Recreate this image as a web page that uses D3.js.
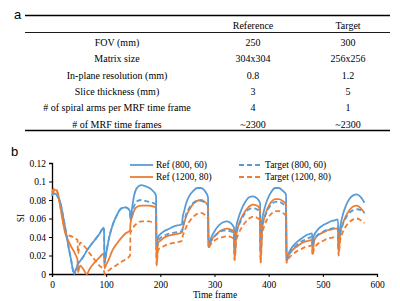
<!DOCTYPE html>
<html>
<head>
<meta charset="utf-8">
<script src="https://cdn.jsdelivr.net/npm/d3@7/dist/d3.min.js"></script>
<style>
  body { margin: 0; background: #fff; }
  svg { display: block; }
  .serif { font-family: "Liberation Serif", "Times New Roman", Times, "DejaVu Serif", serif; }
  .sans { font-family: "Liberation Sans", Arial, sans-serif; }
</style>
</head>
<body>
<div id="chart"></div>
<script>
// table (panel a)
var rowLabels = ["FOV (mm)", "Matrix size", "In-plane resolution (mm)", "Slice thickness (mm)",
    "# of spiral arms per MRF time frame", "# of MRF time frames"];
var colHeaders = ["Reference", "Target"];
var refValues = ["250", "304x304", "0.8", "3", "4", "~2300"];
var targetValues = ["300", "256x256", "1.2", "5", "1", "~2300"];

// chart (panel b)
var seriesNames = ["Ref (800, 60)", "Ref (1200, 80)", "Target (800, 60)", "Target (1200, 80)"];
var yTicks = [0, 0.02, 0.04, 0.06, 0.08, 0.1, 0.12];
var xTicks = [0, 100, 200, 300, 400, 500, 600];

var frames = [
    0, 3, 6, 10, 15, 20, 25, 30, 35, 41, 44, 47,
    48, 52, 58, 64, 70, 78, 86, 96,
    97, 100, 105, 112, 120, 128, 136, 144,
    145, 148, 152, 158, 165, 172, 180, 186, 192,
    193, 196, 200, 206, 213, 220, 228, 236, 240,
    241, 244, 248, 254, 261, 268, 275, 282, 288,
    289, 292, 296, 302, 309, 316, 323, 330, 336,
    337, 340, 344, 350, 357, 364, 371, 378, 384,
    385, 388, 392, 398, 405, 412, 419, 426, 432,
    433, 436, 440, 446, 453, 460, 467, 474, 480,
    481, 484, 488, 494, 501, 508, 515, 522, 528,
    529, 532, 536, 542, 549, 556, 563, 570, 577
];

var ref800 = [
    0.085, 0.087, 0.087, 0.084, 0.078, 0.064, 0.048, 0.031, 0.016, 0.0, 0.005, 0.009,
    0.011, 0.014, 0.019, 0.025, 0.030, 0.036, 0.042, 0.050,
    0.012, 0.022, 0.038, 0.053, 0.064, 0.071, 0.072, 0.068,
    0.058, 0.072, 0.086, 0.094, 0.096, 0.095, 0.093, 0.090, 0.085,
    0.030, 0.040, 0.043, 0.046, 0.048, 0.050, 0.052, 0.053, 0.054,
    0.060, 0.068, 0.077, 0.085, 0.090, 0.093, 0.093, 0.090, 0.083,
    0.030, 0.036, 0.042, 0.048, 0.053, 0.056, 0.057, 0.055, 0.050,
    0.027, 0.050, 0.060, 0.070, 0.078, 0.083, 0.084, 0.082, 0.077,
    0.030, 0.058, 0.070, 0.081, 0.089, 0.093, 0.093, 0.090, 0.086,
    0.015, 0.021, 0.026, 0.031, 0.035, 0.038, 0.041, 0.043, 0.044,
    0.036, 0.042, 0.046, 0.050, 0.053, 0.055, 0.057, 0.058, 0.059,
    0.030, 0.050, 0.062, 0.073, 0.081, 0.085, 0.086, 0.083, 0.077
];

var ref1200 = [
    0.085, 0.089, 0.091, 0.089, 0.074, 0.057, 0.043, 0.036, 0.030, 0.024, 0.020, 0.016,
    0.002, 0.009, 0.005, 0.0, 0.006, 0.012, 0.017, 0.022,
    0.006, 0.010, 0.016, 0.026, 0.033, 0.039, 0.044, 0.047,
    0.055, 0.062, 0.069, 0.073, 0.074, 0.074, 0.074, 0.073, 0.072,
    0.009, 0.034, 0.036, 0.039, 0.041, 0.042, 0.043, 0.044, 0.045,
    0.048, 0.055, 0.063, 0.070, 0.076, 0.079, 0.080, 0.078, 0.074,
    0.029, 0.033, 0.038, 0.042, 0.046, 0.048, 0.049, 0.048, 0.046,
    0.015, 0.042, 0.052, 0.061, 0.068, 0.073, 0.075, 0.074, 0.070,
    0.012, 0.050, 0.061, 0.071, 0.078, 0.081, 0.081, 0.079, 0.076,
    0.014, 0.019, 0.023, 0.027, 0.030, 0.033, 0.035, 0.036, 0.037,
    0.022, 0.036, 0.040, 0.043, 0.045, 0.047, 0.048, 0.049, 0.049,
    0.022, 0.043, 0.053, 0.062, 0.069, 0.073, 0.074, 0.071, 0.066
];

var target800 = [
    0.085, 0.087, 0.087, 0.084, 0.078, 0.064, 0.048, 0.031, 0.016, 0.0, 0.005, 0.009,
    0.011, 0.014, 0.019, 0.025, 0.030, 0.036, 0.042, 0.050,
    0.012, 0.022, 0.038, 0.053, 0.064, 0.071, 0.072, 0.068,
    0.060, 0.066, 0.074, 0.079, 0.080, 0.079, 0.078, 0.077, 0.075,
    0.028, 0.036, 0.039, 0.041, 0.043, 0.044, 0.045, 0.046, 0.046,
    0.050, 0.057, 0.065, 0.072, 0.077, 0.079, 0.079, 0.077, 0.074,
    0.029, 0.034, 0.038, 0.042, 0.045, 0.047, 0.047, 0.046, 0.044,
    0.022, 0.042, 0.051, 0.059, 0.066, 0.070, 0.071, 0.070, 0.067,
    0.025, 0.050, 0.060, 0.069, 0.075, 0.078, 0.078, 0.076, 0.073,
    0.013, 0.019, 0.024, 0.028, 0.032, 0.035, 0.037, 0.039, 0.040,
    0.030, 0.038, 0.041, 0.044, 0.046, 0.048, 0.049, 0.050, 0.050,
    0.025, 0.043, 0.052, 0.060, 0.066, 0.069, 0.070, 0.069, 0.066
];

var target1200 = [
    0.088, 0.092, 0.093, 0.088, 0.074, 0.058, 0.045, 0.042, 0.041, 0.039, 0.038, 0.037,
    0.022, 0.034, 0.031, 0.027, 0.022, 0.016, 0.010, 0.003,
    0.0, 0.001, 0.004, 0.007, 0.010, 0.013, 0.016, 0.020,
    0.045, 0.048, 0.052, 0.055, 0.057, 0.057, 0.057, 0.056, 0.056,
    0.010, 0.026, 0.028, 0.030, 0.032, 0.033, 0.034, 0.035, 0.036,
    0.040, 0.045, 0.051, 0.057, 0.062, 0.065, 0.066, 0.064, 0.060,
    0.028, 0.031, 0.034, 0.037, 0.039, 0.040, 0.041, 0.040, 0.038,
    0.015, 0.035, 0.043, 0.050, 0.056, 0.060, 0.062, 0.061, 0.058,
    0.012, 0.043, 0.052, 0.060, 0.065, 0.068, 0.068, 0.066, 0.063,
    0.012, 0.016, 0.019, 0.022, 0.025, 0.027, 0.029, 0.030, 0.031,
    0.020, 0.028, 0.031, 0.034, 0.036, 0.038, 0.039, 0.040, 0.040,
    0.020, 0.036, 0.044, 0.051, 0.056, 0.059, 0.060, 0.058, 0.055
];

var blue = "#5b9bd5";
var orange = "#ed7d31";

var svg = d3.select("#chart")
    .append("svg")
    .attr("width", 400)
    .attr("height", 301);

// ---------- panel a: table ----------
svg.append("text")
    .attr("class", "sans")
    .attr("x", 14).attr("y", 18.5)
    .attr("font-size", 13)
    .text("a");

var tableLeft = 25, tableRight = 390;
var colX = [117, 253, 348];

svg.append("line").attr("x1", tableLeft).attr("x2", tableRight)
    .attr("y1", 15.5).attr("y2", 15.5)
    .style("stroke", "#000").style("stroke-width", 1.3);
svg.append("line").attr("x1", tableLeft).attr("x2", tableRight)
    .attr("y1", 32.5).attr("y2", 32.5)
    .style("stroke", "#000").style("stroke-width", 0.9);
svg.append("line").attr("x1", tableLeft).attr("x2", tableRight)
    .attr("y1", 130.5).attr("y2", 130.5)
    .style("stroke", "#000").style("stroke-width", 1.3);

svg.selectAll("text.col-header")
    .data(colHeaders)
    .enter().append("text")
    .attr("class", "col-header serif")
    .attr("x", function(d, i) { return colX[i + 1]; })
    .attr("y", 28.5)
    .attr("text-anchor", "middle")
    .attr("font-size", 10)
    .text(function(d) { return d; });

var rowY = d3.scaleLinear().domain([0, rowLabels.length - 1]).range([46.2, 127.6]);

var rows = svg.selectAll("g.row")
    .data(rowLabels)
    .enter().append("g")
    .attr("class", "row serif")
    .attr("font-size", 10)
    .attr("text-anchor", "middle")
    .attr("transform", function(d, i) { return "translate(0," + rowY(i) + ")"; });

rows.append("text")
    .attr("x", colX[0])
    .text(function(d) { return d; });

rows.append("text")
    .attr("x", colX[1])
    .text(function(d, i) { return refValues[i]; });

rows.append("text")
    .attr("x", colX[2])
    .text(function(d, i) { return targetValues[i]; });

// ---------- panel b: line chart ----------
svg.append("text")
    .attr("class", "sans")
    .attr("x", 11).attr("y", 155.5)
    .attr("font-size", 13)
    .text("b");

var x = d3.scaleLinear().domain([0, 600]).range([52, 377]);
var y = d3.scaleLinear().domain([0, 0.12]).range([274, 163]);

var xAxis = d3.axisBottom(x).tickValues(xTicks).tickSize(3).tickFormat(d3.format("d"));
var yAxis = d3.axisLeft(y).tickValues(yTicks).tickSize(3)
    .tickFormat(function(d) { return d === 0 ? "0" : String(+d.toFixed(2)); });

var gx = svg.append("g")
    .attr("transform", "translate(0,274)")
    .call(xAxis);
var gy = svg.append("g")
    .attr("transform", "translate(52,0)")
    .call(yAxis);

[gx, gy].forEach(function(g) {
    g.attr("font-family", null).attr("font-size", null).attr("class", "serif");
    g.select(".domain").style("stroke", "#000").style("stroke-width", 1.3);
    g.selectAll(".tick line").style("stroke", "#000").style("stroke-width", 1);
    g.selectAll(".tick text")
        .attr("font-size", 9.5)
        .style("fill", "#000");
});
gy.selectAll(".tick text").attr("x", -6);
gx.selectAll(".tick text").attr("y", 7);

svg.append("text")
    .attr("class", "serif")
    .attr("x", 215).attr("y", 297.5)
    .attr("text-anchor", "middle")
    .attr("font-size", 9.5)
    .text("Time frame");

svg.append("text")
    .attr("class", "serif")
    .attr("transform", "translate(24,218) rotate(-90)")
    .attr("text-anchor", "middle")
    .attr("font-size", 9.5)
    .text("SI");

// series
var allSeries = [
    { name: seriesNames[0], values: ref800, color: blue, dash: null },
    { name: seriesNames[1], values: ref1200, color: orange, dash: null },
    { name: seriesNames[2], values: target800, color: blue, dash: "5,3" },
    { name: seriesNames[3], values: target1200, color: orange, dash: "5,3" }
];

var line = d3.line()
    .x(function(d, i) { return x(frames[i]); })
    .y(function(d) { return y(d); })
    .curve(d3.curveMonotoneX);

svg.selectAll("path.series")
    .data(allSeries)
    .enter().append("path")
    .attr("class", "series")
    .attr("d", function(d) { return line(d.values); })
    .style("fill", "none")
    .style("stroke", function(d) { return d.color; })
    .style("stroke-width", 1.8)
    .style("stroke-dasharray", function(d) { return d.dash; });

// legend
var legendPos = [[130, 165], [130, 177], [239, 165], [239, 177]];
var legend = svg.selectAll("g.legend")
    .data(allSeries)
    .enter().append("g")
    .attr("class", "legend")
    .attr("transform", function(d, i) { return "translate(" + legendPos[i][0] + "," + legendPos[i][1] + ")"; });

legend.append("line")
    .attr("x1", 0).attr("x2", 23)
    .style("stroke", function(d) { return d.color; })
    .style("stroke-width", 1.8)
    .style("stroke-dasharray", function(d) { return d.dash; });

legend.append("text")
    .attr("class", "serif")
    .attr("x", 26).attr("y", 3.3)
    .attr("font-size", 9.5)
    .text(function(d) { return d.name; });
</script>
</body>
</html>
